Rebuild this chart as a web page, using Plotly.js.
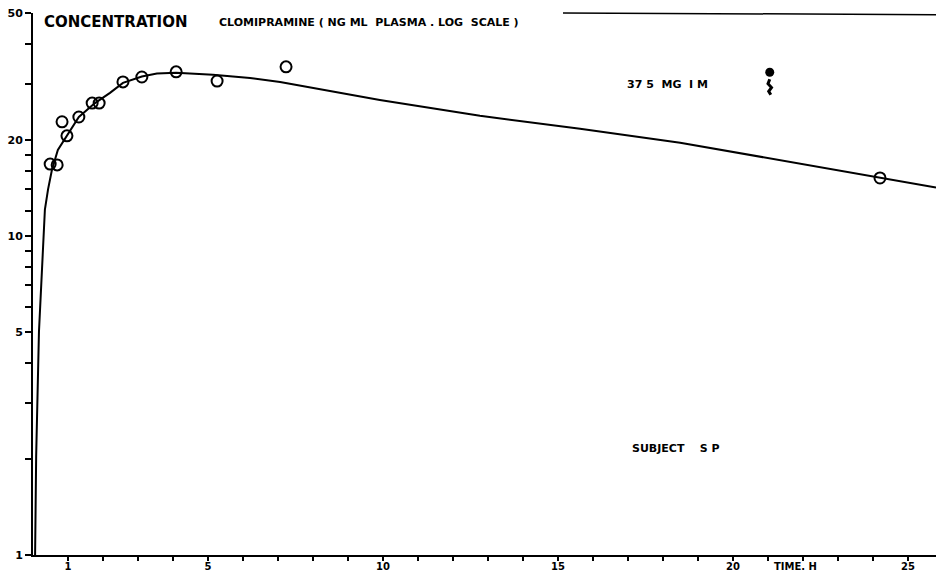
<!DOCTYPE html>
<html>
<head>
<meta charset="utf-8">
<script src="https://cdn.plot.ly/plotly-3.0.1.min.js"></script>
<style>html,body{margin:0;padding:0;background:#fff;}#chart{width:936px;height:574px;}</style>
</head>
<body>
<div id="chart"></div>
<script>
// Observed concentrations (time in h, clomipramine ng/ml)
const obsTime = [0.49, 0.69, 0.83, 0.97, 1.31, 1.69, 1.89, 2.57, 3.11, 4.09, 5.26, 7.23, 24.2];
const obsConc = [16.8, 16.7, 22.8, 20.6, 23.6, 26.1, 26.1, 30.4, 31.5, 32.7, 30.6, 33.9, 15.2];

// Fitted curve
const fitTime = [0.06, 0.09, 0.17, 0.29, 0.34, 0.43, 0.54, 0.71, 0.97, 1.31, 1.77, 2.2, 2.57, 3.11, 3.54, 4.09, 5.14, 6.2, 7.06, 9.91, 12.77, 15.63, 18.49, 21.34, 24.11, 25.8];
const fitConc = [1.0, 2.03, 5.0, 10.0, 12.1, 14.0, 16.1, 18.6, 20.7, 23.6, 26.1, 28.1, 30.2, 31.6, 32.3, 32.5, 32.0, 31.3, 30.4, 26.7, 23.8, 21.7, 19.6, 17.3, 15.3, 14.2];

// Injection symbol (decoration near the dose note)
const injX = [21.05, 21.0, 21.1, 21.02, 21.08];
const injY = [31.0, 30.0, 29.2, 28.4, 27.7];
const injHeadX = [21.05];
const injHeadY = [32.6];

// Ticks: every tick position, with labels only on the labelled ones
const xTickVals = [1, 2, 3, 4, 5, 6, 7, 8, 9, 10, 11, 12, 13, 14, 15, 16, 17, 18, 19, 20, 21, 22, 23, 24, 25];
const xTickText = ['1', '', '', '', '5', '', '', '', '', '10', '', '', '', '', '15', '', '', '', '', '20', '', '', '', '', '25'];
const yTickVals = [1, 2, 3, 4, 5, 6, 7, 8, 9, 10, 12, 14, 16, 18, 20, 30, 40, 50];
const yTickText = ['1', '', '', '', '5', '', '', '', '', '10', '', '', '', '', '20', '', '', '50'];

const F = 'DejaVu Sans, Liberation Sans, sans-serif';
const XR = [0, 25.8];
const YR = [0, Math.log10(50)];
const W = 936, H = 574, ML = 33, MR = 0, MT = 13, MB = 19;
const PW = W - ML - MR, PH = H - MT - MB;

const traces = [
  {x: fitTime, y: fitConc, mode: 'lines', line: {color: '#000', width: 2}, hoverinfo: 'skip', showlegend: false},
  {x: obsTime, y: obsConc, mode: 'markers', marker: {symbol: 'circle-open', size: 11, color: '#000', line: {width: 2, color: '#000'}}, showlegend: false},
  {x: injX, y: injY, mode: 'lines', line: {color: '#000', width: 3}, hoverinfo: 'skip', showlegend: false},
  {x: injHeadX, y: injHeadY, mode: 'markers', marker: {symbol: 'circle', size: 9, color: '#000'}, hoverinfo: 'skip', showlegend: false}
];

const layout = {
  width: W, height: H,
  margin: {l: ML, r: MR, t: MT, b: MB, pad: 0},
  paper_bgcolor: '#fff', plot_bgcolor: '#fff',
  font: {family: F, color: '#000'},
  xaxis: {
    range: XR, showgrid: false, zeroline: false,
    showline: true, linecolor: '#000', linewidth: 2,
    ticks: 'outside', ticklen: 4, tickwidth: 2, tickcolor: '#000',
    tickmode: 'array', tickvals: xTickVals, ticktext: xTickText,
    tickfont: {family: F, size: 10, weight: 'bold', color: '#000'},
    ticklabelstandoff: -3
  },
  yaxis: {
    type: 'log', range: YR, showgrid: false, zeroline: false,
    showline: true, linecolor: '#000', linewidth: 2,
    ticks: 'outside', ticklen: 6, tickwidth: 2, tickcolor: '#000',
    tickmode: 'array', tickvals: yTickVals, ticktext: yTickText,
    tickfont: {family: F, size: 11, weight: 'bold', color: '#000'}
  },
  shapes: [
    {type: 'line', xref: 'paper', yref: 'paper', x0: (563 - ML) / PW, x1: 1, y0: 1.0, y1: 0.997, line: {color: '#000', width: 1.5}}
  ],
  annotations: [
    {xref: 'paper', yref: 'paper', x: (42 - ML) / PW, y: (555 - 22) / PH, xanchor: 'left', yanchor: 'middle', showarrow: false,
     text: 'CONCENTRATION', font: {family: F, size: 15, weight: 'bold', color: '#000'}},
    {xref: 'paper', yref: 'paper', x: (217 - ML) / PW, y: (555 - 22) / PH, xanchor: 'left', yanchor: 'middle', showarrow: false,
     text: 'CLOMIPRAMINE ( NG ML  PLASMA . LOG  SCALE )', font: {family: F, size: 11, weight: 'bold', color: '#000'}},
    {xref: 'paper', yref: 'paper', x: (625 - ML) / PW, y: (555 - 85) / PH, xanchor: 'left', yanchor: 'middle', showarrow: false,
     text: '37 5  MG  I M', font: {family: F, size: 11, weight: 'bold', color: '#000'}},
    {xref: 'paper', yref: 'paper', x: (630 - ML) / PW, y: (555 - 448) / PH, xanchor: 'left', yanchor: 'middle', showarrow: false,
     text: 'SUBJECT    S P', font: {family: F, size: 11, weight: 'bold', color: '#000'}},
    {xref: 'paper', yref: 'paper', x: (772 - ML) / PW, y: (555 - 566) / PH, xanchor: 'left', yanchor: 'middle', showarrow: false,
     text: 'TIME. H', font: {family: F, size: 10, weight: 'bold', color: '#000'}}
  ]
};

Plotly.newPlot('chart', traces, layout, {displayModeBar: false, staticPlot: true});
</script>
</body>
</html>
